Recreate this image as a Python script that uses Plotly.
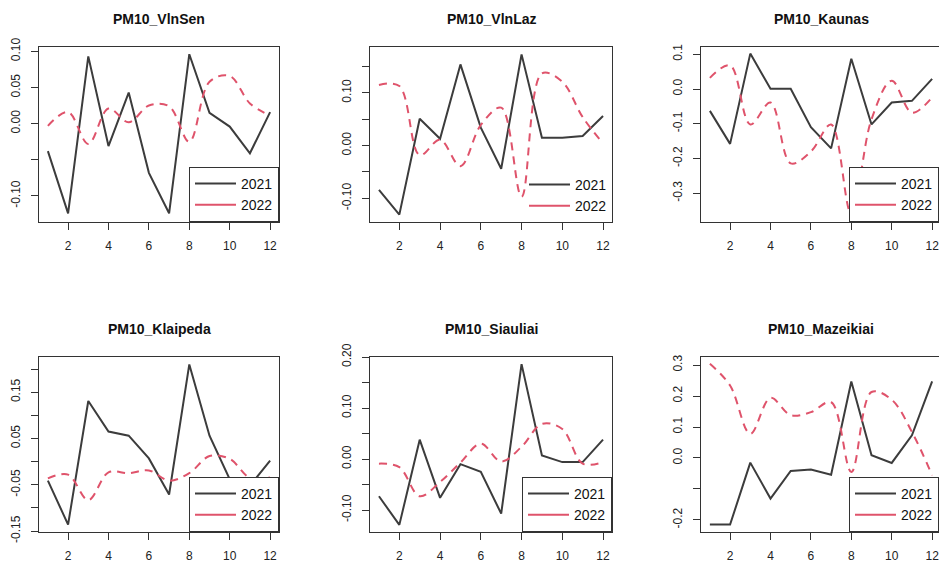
import plotly.graph_objects as go

# ---------------- data ----------------
months = [1, 2, 3, 4, 5, 6, 7, 8, 9, 10, 11, 12]
x_tick_values = [2, 4, 6, 8, 10, 12]
years = ["2021", "2022"]

titles = ["PM10_VlnSen", "PM10_VlnLaz", "PM10_Kaunas",
          "PM10_Klaipeda", "PM10_Siauliai", "PM10_Mazeikiai"]

vlnsen_2021 = [-0.038, -0.124, 0.093, -0.031, 0.043, -0.068, -0.124, 0.096, 0.015, -0.004, -0.041, 0.016]
vlnsen_2022 = [-0.003, 0.016, -0.028, 0.021, 0.002, 0.025, 0.024, -0.025, 0.058, 0.066, 0.028, 0.011]

vlnlaz_2021 = [-0.084, -0.131, 0.051, 0.013, 0.154, 0.034, -0.044, 0.173, 0.015, 0.015, 0.018, 0.056]
vlnlaz_2022 = [0.115, 0.113, -0.018, 0.011, -0.039, 0.039, 0.072, -0.097, 0.137, 0.121, 0.054, 0.004]

kaunas_2021 = [-0.063, -0.158, 0.102, 0.001, 0.001, -0.110, -0.171, 0.087, -0.102, -0.039, -0.034, 0.029]
kaunas_2022 = [0.032, 0.068, -0.102, -0.039, -0.214, -0.180, -0.102, -0.360, -0.087, 0.024, -0.068, -0.024]

klaipeda_2021 = [-0.041, -0.136, 0.131, 0.065, 0.056, 0.007, -0.071, 0.210, 0.056, -0.038, -0.052, 0.002]
klaipeda_2022 = [-0.036, -0.028, -0.083, -0.023, -0.025, -0.019, -0.041, -0.025, 0.012, 0.006, -0.035, -0.034]

siauliai_2021 = [-0.073, -0.129, 0.038, -0.076, -0.010, -0.025, -0.107, 0.186, 0.007, -0.006, -0.006, 0.038]
siauliai_2022 = [-0.009, -0.016, -0.073, -0.045, -0.007, 0.030, -0.005, 0.024, 0.069, 0.059, -0.009, -0.006]

mazeikiai_2021 = [-0.215, -0.215, -0.015, -0.131, -0.042, -0.037, -0.054, 0.247, 0.009, -0.016, 0.073, 0.247]
mazeikiai_2022 = [0.304, 0.234, 0.078, 0.194, 0.138, 0.148, 0.180, -0.045, 0.213, 0.188, 0.084, -0.056]

series_2021 = [vlnsen_2021, vlnlaz_2021, kaunas_2021, klaipeda_2021, siauliai_2021, mazeikiai_2021]
series_2022 = [vlnsen_2022, vlnlaz_2022, kaunas_2022, klaipeda_2022, siauliai_2022, mazeikiai_2022]

y_tick_values = [
    [-0.10, -0.05, 0.00, 0.05, 0.10],
    [-0.10, -0.05, 0.00, 0.05, 0.10, 0.15],
    [-0.3, -0.2, -0.1, 0.0, 0.1],
    [-0.15, -0.10, -0.05, 0.00, 0.05, 0.10, 0.15, 0.20],
    [-0.10, -0.05, 0.00, 0.05, 0.10, 0.15, 0.20],
    [-0.2, -0.1, 0.0, 0.1, 0.2, 0.3],
]
y_tick_labels = [
    ["-0.10", "", "0.00", "0.05", "0.10"],
    ["-0.10", "", "0.00", "", "0.10", ""],
    ["-0.3", "-0.2", "-0.1", "0.0", "0.1"],
    ["-0.15", "", "-0.05", "", "0.05", "", "0.15", ""],
    ["-0.10", "", "0.00", "", "0.10", "", "0.20"],
    ["-0.2", "", "0.0", "0.1", "0.2", "0.3"],
]

# ---------------- layout / style ----------------
W, H = 939, 562
FONT = "Arial, 'Liberation Sans', sans-serif"
C2021 = "#3c3c3c"
C2022 = "#DF536B"
AXC = "#333333"

col_px = [(39, 279), (370, 612), (701, 939)]
row_px = [(47, 222), (357, 532)]
x_ranges = [[0.56, 12.44], [0.56, 12.44], [0.56, 12.34]]
y_ranges = [[-0.136, 0.106], [-0.145, 0.187], [-0.383, 0.121],
            [-0.152, 0.226], [-0.143, 0.200], [-0.239, 0.326]]
legend_boxed = [True, False, True, True, True, True]

fig = go.Figure()
annotations = []

for i in range(6):
    r, c = divmod(i, 3)
    ax = "" if i == 0 else str(i + 1)
    x0, x1 = col_px[c]
    y0, y1 = row_px[r]
    xdom = [x0 / W, x1 / W]
    ydom = [1 - y1 / H, 1 - y0 / H]
    leg = "legend" if i == 0 else "legend" + str(i + 1)

    fig.add_trace(go.Scatter(
        x=months, y=series_2021[i], mode="lines",
        line=dict(color=C2021, width=2),
        xaxis="x" + ax, yaxis="y" + ax, showlegend=False, hoverinfo="x+y"))
    fig.add_trace(go.Scatter(
        x=months, y=series_2022[i], mode="lines",
        line=dict(color=C2022, width=2, dash="8px,6px", shape="spline", smoothing=1.0),
        xaxis="x" + ax, yaxis="y" + ax, showlegend=False, hoverinfo="x+y"))
    # legend entries (solid keys, as in the original legend)
    for name, col in zip(years, [C2021, C2022]):
        fig.add_trace(go.Scatter(
            x=[None], y=[None], mode="lines", name=name,
            line=dict(color=col, width=2),
            xaxis="x" + ax, yaxis="y" + ax, legend=leg, showlegend=True))

    fig.update_layout(**{
        "xaxis" + ax: dict(
            domain=xdom, range=x_ranges[c], anchor="y" + ax,
            tickvals=x_tick_values, ticktext=[str(v) for v in x_tick_values],
            ticks="outside", ticklen=7, tickwidth=1, tickcolor=AXC,
            showline=True, linecolor=AXC, linewidth=1, mirror=True,
            showgrid=False, zeroline=False, ticklabeloverflow="allow",
            tickfont=dict(family=FONT, size=12, color="#222222"),
            ticklabelstandoff=6),
        "yaxis" + ax: dict(
            domain=ydom, range=y_ranges[i], anchor="x" + ax,
            tickvals=y_tick_values[i], ticktext=y_tick_labels[i],
            ticks="outside", ticklen=7, tickwidth=1, tickcolor=AXC,
            showline=True, linecolor=AXC, linewidth=1, mirror=(c != 2),
            showgrid=False, zeroline=False, tickangle=-90,
            tickfont=dict(family=FONT, size=12, color="#222222"),
            ticklabelstandoff=6),
        leg: dict(
            x=(x1 if c != 2 else 849) / W, y=1 - y1 / H,
            xanchor="right" if c != 2 else "left", yanchor="bottom",
            bgcolor="white" if legend_boxed[i] else "rgba(0,0,0,0)",
            bordercolor=AXC, borderwidth=1 if legend_boxed[i] else 0,
            font=dict(family=FONT, size=14, color="#111111"),
            tracegroupgap=0, itemwidth=41),
    })

    annotations.append(dict(
        text="<b>" + titles[i] + "</b>", x=(x0 + (x1 if c != 2 else 941)) / 2 / W,
        y=1 - (19 if r == 0 else 329) / H, xref="paper", yref="paper",
        xanchor="center", yanchor="middle", showarrow=False,
        font=dict(family=FONT, size=14, color="#111111")))

fig.update_layout(
    width=W, height=H,
    margin=dict(l=0, r=0, t=0, b=0, autoexpand=False),
    paper_bgcolor="white", plot_bgcolor="white",
    annotations=annotations,
    showlegend=True,
)

fig.write_html("out.html", config={"displayModeBar": False},
               post_script="document.body.style.margin='0px';")
